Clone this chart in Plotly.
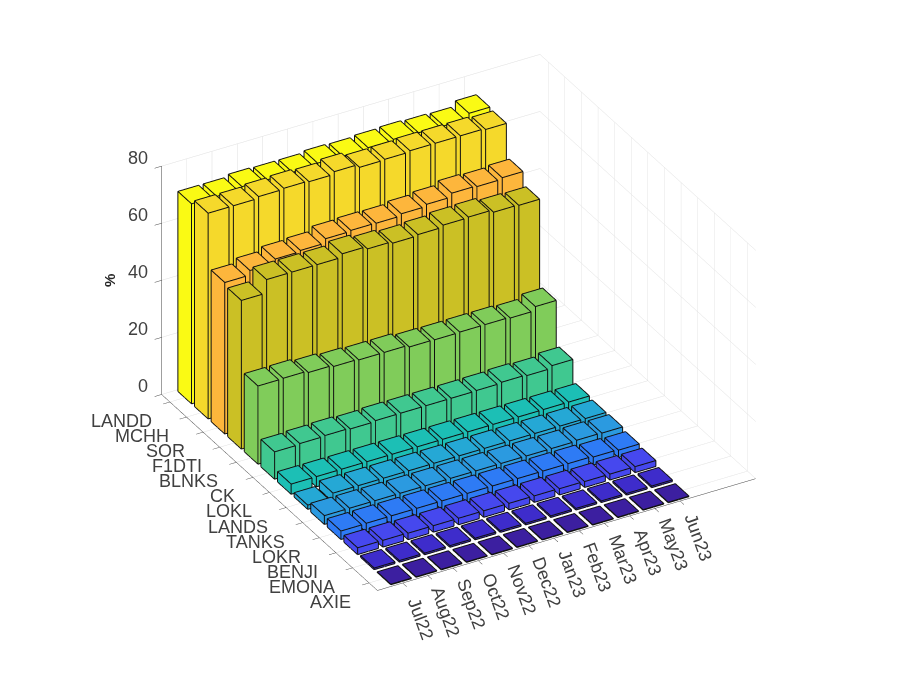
import math
import plotly.graph_objects as go

months = ["Jul22","Aug22","Sep22","Oct22","Nov22","Dec22","Jan23","Feb23","Mar23","Apr23","May23","Jun23"]
tokens = ["LANDD","MCHH","SOR","F1DTI","BLNKS","CK","LOKL","LANDS","TANKS","LOKR","BENJI","EMONA","AXIE"]
z_ticks = [0,20,40,60,80]

landd = [70,70,70.8,70.6,70.6,71.2,71,71.4,71.7,71.4,71.2,73]
mchh  = [72,72,72.6,72.9,72.6,73.5,72.4,72.6,73,73,73,72.6]
sor   = [53,54.6,56,56.4,57.9,58.2,58.1,58.8,59.5,60.8,60.5,61]
f1dti = [52,56.7,56.7,56.7,57.9,57,56.4,56.8,57.5,57.7,56.8,56.6]
blnks = [27.3,27.4,26.8,26.3,26,26,25.3,25.2,25.3,25.3,25,26.4]
ck    = [9.5,9.8,10,9.7,10,10,10,10,10.1,10.4,10.1,11]
lokl  = [3.5,3.5,3.5,3.5,3.5,3.5,3.5,3.5,3.5,3.5,3.5,3.5]
lands = [1.4,3,3,3,3,3,3,3,3,3,3,3]
tanks = [3,3,3,3,3,3,3,3,3,3,3.3,3.2]
lokr  = [2.9,3,3,3,3,3,3,3,3,3,2.7,2.5]
benji = [2.3,2.3,2.2,2.2,2.2,2.2,2.2,2.2,2.1,2,2,2]
emona = [0.5,0.5,0.5,0.5,0.5,0.5,0.5,0.5,0.5,0.5,0.5,0.5]
axie  = [0.1,0.1,0.1,0.1,0.1,0.1,0.1,0.1,0.1,0.1,0.1,0.1]
series = [landd,mchh,sor,f1dti,blnks,ck,lokl,lands,tanks,lokr,benji,emona,axie]
colors = ["#FAFA14","#F5D92B","#FDB63C","#CBC025","#80CC5A","#40C890","#1CBFB5",
          "#25A8D5","#2B9AE0","#2E7BF5","#4648EE","#3E2CCB","#3C1FA0"]

W = 0.4
E = 0.012   # edge lines sit just outside the faces so they are not lost to depth fighting
fig = go.Figure()
ex, ey, ez = [], [], []
for r, vals in enumerate(series):
    yc = len(tokens) - r
    X, Y, Z, I, J, K = [], [], [], [], [], []
    for m, v in enumerate(vals):
        xc = m + 1
        n = len(X)
        for zz in (0, v):
            for xx, yy in ((xc-W, yc-W), (xc+W, yc-W), (xc+W, yc+W), (xc-W, yc+W)):
                X.append(xx); Y.append(yy); Z.append(zz)
        quads = [(0,1,2,3),(4,5,6,7),(0,1,5,4),(1,2,6,5),(2,3,7,6),(3,0,4,7)]
        for a,b,c,d in quads:
            I += [n+a, n+a]; J += [n+b, n+c]; K += [n+c, n+d]
        def ed(q):
            return (X[q] + (E if X[q] > xc else -E), Y[q] + (E if Y[q] > yc else -E), Z[q] + (0.08 if Z[q] > 0 else 0))
        for a,b in [(0,1),(1,2),(2,3),(3,0),(4,5),(5,6),(6,7),(7,4),(0,4),(1,5),(2,6),(3,7)]:
            pa, pb = ed(n+a), ed(n+b)
            ex += [pa[0], pb[0], None]; ey += [pa[1], pb[1], None]; ez += [pa[2], pb[2], None]
    fig.add_trace(go.Mesh3d(x=X, y=Y, z=Z, i=I, j=J, k=K, color=colors[r], flatshading=True,
                            lighting=dict(ambient=1, diffuse=0, specular=0, fresnel=0, roughness=1),
                            hoverinfo="skip", showscale=False))
fig.add_trace(go.Scatter3d(x=ex, y=ey, z=ez, mode="lines", line=dict(color="#101010", width=2),
                           hoverinfo="skip", showlegend=False))

theta = math.radians(29.7); el = math.radians(31.2); R = 1.54
center = dict(x=-0.0269, y=0.0153, z=-0.0535)
eye = dict(x=center["x"]-math.sin(theta)*math.cos(el)*R,
           y=center["y"]-math.cos(theta)*math.cos(el)*R,
           z=center["z"]+math.sin(el)*R)
font = dict(family="Liberation Sans", size=18, color="#404040")
common = dict(showbackground=False, gridcolor="#dedede", gridwidth=1, showline=True, linecolor="#404040",
              linewidth=1, ticks="outside", ticklen=8, tickcolor="#404040", showticklabels=False,
              showspikes=False, zeroline=False, title=dict(text=""))
ann = []
for i, t in enumerate(months):
    ann.append(dict(x=i+1, y=0.5, z=0, text=t, textangle=70, showarrow=False, font=font,
                    xanchor="center", yanchor="middle", xshift=18, yshift=-36))
for i, t in enumerate(tokens):
    ann.append(dict(x=0, y=13-i, z=0, text=t, showarrow=False, font=font,
                    xanchor="right", yanchor="middle", xshift=-16, yshift=-19))
for v in z_ticks:
    ann.append(dict(x=0, y=13.5, z=v, text=str(v), showarrow=False, font=font,
                    xanchor="right", yanchor="middle", xshift=-12, yshift=8))
ann.append(dict(x=0, y=13.5, z=40, text="<b>%</b>", textangle=-90, showarrow=False,
                font=dict(family="Liberation Sans", size=15, color="#262626"),
                xanchor="center", yanchor="middle", xshift=-52, yshift=0))
fig.update_layout(
    paper_bgcolor="white", margin=dict(l=0, r=0, t=0, b=0), showlegend=False,
    scene=dict(
        domain=dict(x=[0,1], y=[0,1]),
        camera=dict(eye=eye, up=dict(x=0,y=0,z=1), center=center, projection=dict(type="orthographic")),
        aspectmode="manual", aspectratio=dict(x=1.322, y=1.322, z=0.81),
        xaxis=dict(range=[0,15], tickmode="array", tickvals=list(range(1,13)), ticktext=months, **common),
        yaxis=dict(range=[0.5,13.5], tickmode="array", tickvals=list(range(13,0,-1)), ticktext=tokens, **common),
        zaxis=dict(range=[0,80], tickmode="array", tickvals=z_ticks, **common),
        annotations=ann,
    ),
)
fig.write_html("out.html")
